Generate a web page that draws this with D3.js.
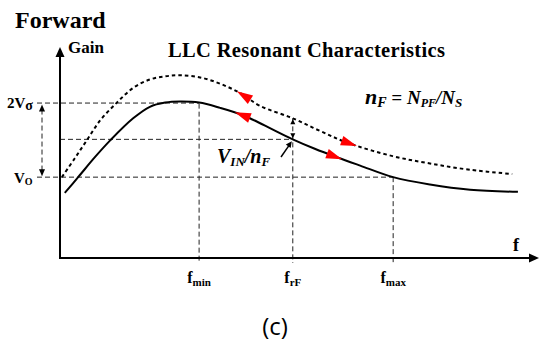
<!DOCTYPE html>
<html>
<head>
<meta charset="utf-8">
<script src="https://cdn.jsdelivr.net/npm/d3@7"></script>
<style>
  html, body { margin: 0; padding: 0; background: #fff; }
  svg { display: block; }
  text { font-family: "Liberation Serif", "Times New Roman", serif; fill: #000; }
</style>
</head>
<body>
<div id="chart"></div>
<script>
// ── DATA ─────────────────────────────────────
// frequency (arbitrary units) vs gain
const freqSolid = [0.10, 0.38, 0.73, 1.05, 1.53, 1.88, 2.20, 2.51, 2.91, 3.35, 3.83, 4.29, 4.87, 5.33, 5.79, 6.28, 6.97, 7.74, 8.58, 9.58];
const gainSolid = [0.62, 0.77, 0.96, 1.12, 1.33, 1.44, 1.48, 1.49, 1.48, 1.43, 1.36, 1.26, 1.13, 1.04, 0.96, 0.88, 0.77, 0.70, 0.65, 0.63];

const freqDotted = [0.04, 0.31, 0.56, 0.84, 1.19, 1.53, 1.88, 2.20, 2.51, 2.93, 3.35, 3.77, 4.18, 4.87, 5.44, 6.00, 6.96, 7.74, 8.58, 9.46];
const gainDotted = [0.77, 0.95, 1.12, 1.31, 1.48, 1.62, 1.70, 1.73, 1.74, 1.72, 1.66, 1.57, 1.45, 1.33, 1.21, 1.10, 0.97, 0.90, 0.84, 0.80];

const fTicks = [2.91, 4.87, 6.97];
const fSubs = ['min', 'rF', 'max'];

const gain2Vs = 1.49;   // 2Vσ level
const gainMid = 1.13;   // VIN/nF level
const gainVo = 0.77;    // VO level

// red direction arrows: tip position on curve + direction (-1 = toward low f)
const arrowSolidF = [3.66, 5.90];
const arrowDottedF = [3.70, 6.21];
const arrowDir = [-1, 1];

// ── SETUP ────────────────────────────────────
const W = 539, H = 347;
const svg = d3.select('#chart').append('svg')
  .attr('width', W).attr('height', H)
  .attr('viewBox', `0 0 ${W} ${H}`);

const x = d3.scaleLinear().domain([0, 10]).range([60, 538]);
const y = d3.scaleLinear().domain([0, 2]).range([258, 48]);

const line = d3.line()
  .x(d => x(d[0]))
  .y(d => y(d[1]))
  .curve(d3.curveCatmullRom.alpha(0.5));

function tri(tx, ty, angle, len, half, fill) {
  // triangle with tip at (tx,ty) pointing along angle
  const c = Math.cos(angle), s = Math.sin(angle);
  const bx = tx - c * len, by = ty - s * len;
  const pts = [
    [tx, ty],
    [bx - s * half, by + c * half],
    [bx + s * half, by - c * half]
  ];
  svg.append('polygon')
    .attr('points', pts.map(p => p.join(',')).join(' '))
    .attr('fill', fill);
}

// ── GUIDE LINES ──────────────────────────────
const guide = svg.append('g')
  .attr('stroke', '#222')
  .attr('stroke-width', 1)
  .attr('stroke-dasharray', '5,3')
  .attr('fill', 'none');

guide.append('line')
  .attr('x1', 37).attr('x2', x(fTicks[0]))
  .attr('y1', y(gain2Vs) + 1.5).attr('y2', y(gain2Vs) + 1.5);
guide.append('line')
  .attr('x1', x(0)).attr('x2', x(fTicks[1]))
  .attr('y1', y(gainMid)).attr('y2', y(gainMid));
guide.append('line')
  .attr('x1', 37).attr('x2', x(fTicks[2]))
  .attr('y1', y(gainVo)).attr('y2', y(gainVo));

const topOf = [gain2Vs - 0.02, 1.33, gainVo];
fTicks.forEach((f, i) => {
  guide.append('line')
    .attr('x1', x(f)).attr('x2', x(f))
    .attr('y1', y(topOf[i])).attr('y2', y(0) + 5);
});

// double arrow 2Vσ <-> VO
guide.append('line')
  .attr('x1', 42).attr('x2', 42)
  .attr('y1', y(gain2Vs) + 8).attr('y2', y(gainVo) - 6);
tri(42, y(gain2Vs) + 3, -Math.PI / 2, 7, 3, '#000');
tri(42, y(gainVo) - 1, Math.PI / 2, 7, 3, '#000');

// double arrow at frF between curves
tri(x(fTicks[1]), y(1.33) + 1, -Math.PI / 2, 5, 2.5, '#000');
tri(x(fTicks[1]), y(gainMid) - 1, Math.PI / 2, 5, 2.5, '#000');

// ── AXES ─────────────────────────────────────
svg.append('line')
  .attr('x1', x(0)).attr('x2', x(10) - 8)
  .attr('y1', y(0)).attr('y2', y(0))
  .attr('stroke', '#000').attr('stroke-width', 2);
tri(x(10) + 1, y(0), 0, 10, 4.5, '#000');

svg.append('line')
  .attr('x1', x(0)).attr('x2', x(0))
  .attr('y1', y(0) + 1).attr('y2', y(2) + 8)
  .attr('stroke', '#000').attr('stroke-width', 2);
tri(x(0), y(2) - 1, -Math.PI / 2, 10, 4.5, '#000');

// ── CURVES ───────────────────────────────────
const solidPath = svg.append('path')
  .datum(d3.zip(freqSolid, gainSolid))
  .attr('d', line)
  .attr('fill', 'none')
  .attr('stroke', '#000')
  .attr('stroke-width', 2);

const dottedPath = svg.append('path')
  .datum(d3.zip(freqDotted, gainDotted))
  .attr('d', line)
  .attr('fill', 'none')
  .attr('stroke', '#000')
  .attr('stroke-width', 2)
  .attr('stroke-dasharray', '3.5,3');

// red arrows along curves
function arrowOn(pathSel, f, dir) {
  const node = pathSel.node();
  const total = node.getTotalLength();
  const tx = x(f);
  let lo = 0, hi = total;
  for (let k = 0; k < 40; k++) {
    const mid = (lo + hi) / 2;
    if (node.getPointAtLength(mid).x < tx) lo = mid; else hi = mid;
  }
  const L = (lo + hi) / 2;
  const p = node.getPointAtLength(L);
  const q = node.getPointAtLength(L - dir * 14);
  const ang = Math.atan2(p.y - q.y, p.x - q.x);
  tri(p.x, p.y, ang, 16, 5, '#f00');
}
arrowSolidF.forEach((f, i) => arrowOn(solidPath, f, arrowDir[i]));
arrowDottedF.forEach((f, i) => arrowOn(dottedPath, f, arrowDir[i]));

// VIN/nF pointer
svg.append('line')
  .attr('x1', 281).attr('y1', 157)
  .attr('x2', x(fTicks[1]) - 3).attr('y2', y(gainMid) + 5)
  .attr('stroke', '#000').attr('stroke-width', 1.5);
tri(x(fTicks[1]) - 1, y(gainMid) + 2, Math.atan2(-15, 11), 6, 3, '#000');

// ── TEXT ─────────────────────────────────────
svg.append('text')
  .attr('x', 15).attr('y', 28)
  .attr('font-size', 24).attr('font-weight', 'bold')
  .text('Forward');

svg.append('text')
  .attr('x', 68).attr('y', 53)
  .attr('font-size', 17).attr('font-weight', 'bold')
  .text('Gain');

svg.append('text')
  .attr('x', 168).attr('y', 57)
  .attr('font-size', 20.5).attr('font-weight', 'bold')
  .attr('textLength', 277)
  .text('LLC Resonant Characteristics');

// nF = NPF/NS
const nf = svg.append('text')
  .attr('x', 365).attr('y', 104)
  .attr('font-weight', 'bold').attr('font-style', 'italic')
  .attr('font-size', 19);
nf.append('tspan').attr('font-size', 22).text('n');
nf.append('tspan').attr('font-size', 14).attr('dy', 3).text('F');
nf.append('tspan').attr('dy', -3).text(' = N');
nf.append('tspan').attr('font-size', 12).attr('dy', 3).text('PF');
nf.append('tspan').attr('dy', -3).text('/N');
nf.append('tspan').attr('font-size', 13).attr('dy', 3).text('S');

// VIN/nF
const vin = svg.append('text')
  .attr('x', 217).attr('y', 163)
  .attr('font-weight', 'bold').attr('font-style', 'italic')
  .attr('font-size', 20);
vin.append('tspan').text('V');
vin.append('tspan').attr('font-size', 13).attr('dy', 3).text('IN');
vin.append('tspan').attr('dy', -3).text('/n');
vin.append('tspan').attr('font-size', 13).attr('dy', 3).text('F');

// level labels
const l2 = svg.append('text')
  .attr('x', 7).attr('y', 108)
  .attr('font-weight', 'bold').attr('font-size', 15);
l2.append('tspan').text('2V');
l2.append('tspan').attr('font-size', 14).attr('dy', 2).text('σ');

const lo = svg.append('text')
  .attr('x', 14).attr('y', 183)
  .attr('font-weight', 'bold').attr('font-size', 15);
lo.append('tspan').text('V');
lo.append('tspan').attr('font-size', 10).attr('dy', 2).text('O');

// frequency tick labels
fTicks.forEach((f, i) => {
  const t = svg.append('text')
    .attr('x', x(f)).attr('y', 283)
    .attr('text-anchor', 'middle')
    .attr('font-weight', 'bold').attr('font-size', 16);
  t.append('tspan').text('f');
  t.append('tspan').attr('font-size', 11).attr('dy', 3).text(fSubs[i]);
});

svg.append('text')
  .attr('x', 513).attr('y', 251)
  .attr('font-weight', 'bold').attr('font-size', 18)
  .text('f');

svg.append('text')
  .attr('x', 275).attr('y', 335)
  .attr('text-anchor', 'middle')
  .style('font-family', '"Open Sans", sans-serif')
  .attr('font-size', 24)
  .text('(c)');
</script>
</body>
</html>
